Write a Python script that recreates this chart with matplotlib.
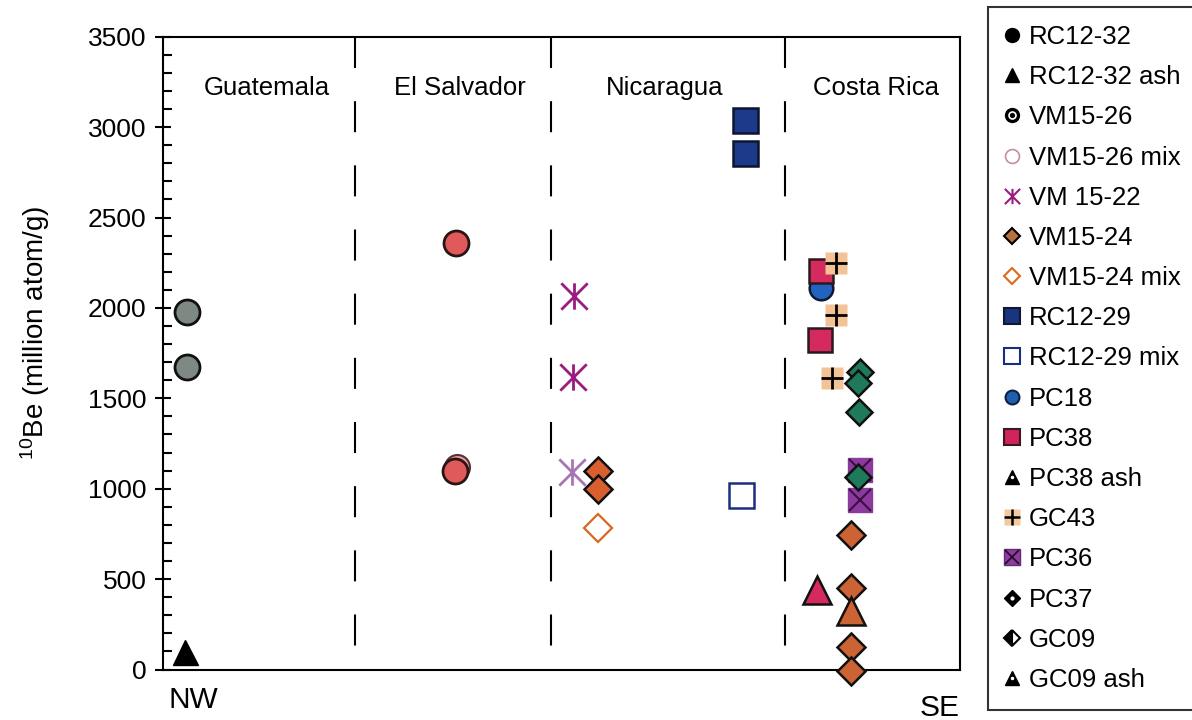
import matplotlib
matplotlib.use('Agg')
import matplotlib.pyplot as plt
from matplotlib.lines import Line2D
from matplotlib.legend_handler import HandlerTuple
from matplotlib.path import Path

plt.rcParams['font.family'] = ['Liberation Sans', 'DejaVu Sans']
plt.rcParams['mathtext.default'] = 'regular'

# x = position along the margin, NW (0) -> SE (100); y = 10Be (million atom/g)
regions = ['Guatemala', 'El Salvador', 'Nicaragua', 'Costa Rica']
region_label_x = [13.0, 37.3, 63.0, 89.5]
region_bounds = [24.1, 48.7, 78.1]

rc1232_x = [3.0, 3.0]
rc1232_y = [1977, 1673]
rc1232ash_x = [2.8]
rc1232ash_y = [95]
vm1526_x = [36.8, 36.6]
vm1526_y = [2357, 1098]
vm1526mix_x = [36.9]
vm1526mix_y = [1120]
vm1522_x = [51.6, 51.5]
vm1522_y = [2065, 1620]
vm1522b_x = [51.3]
vm1522b_y = [1091]
vm1524_x = [54.6, 54.6]
vm1524_y = [1100, 997]
vm1524mix_x = [54.6]
vm1524mix_y = [781]
rc1229_x = [73.0, 73.0]
rc1229_y = [3039, 2858]
rc1229mix_x = [72.5]
rc1229mix_y = [965]
pc18_x = [82.5]
pc18_y = [2108]
pc38_x = [82.5, 82.4]
pc38_y = [2206, 1822]
pc38ash_x = [82.1]
pc38ash_y = [440]
gc43_x = [84.5, 84.5, 83.9]
gc43_y = [2250, 1961, 1611]
pc36_x = [87.5, 87.5]
pc36_y = [1103, 937]
pc37_x = [86.3, 86.3, 86.3, 86.3]
pc37_y = [744, 449, 126, -10]
gc09_x = [87.5, 87.2, 87.3, 87.2]
gc09_y = [1647, 1583, 1426, 1066]
gc09ash_x = [86.3]
gc09ash_y = [325]

# six-armed asterisk: vertical bar plus an X
star = Path([(0, -1), (0, 1), (-1, -1), (1, 1), (-1, 1), (1, -1)],
            [Path.MOVETO, Path.LINETO, Path.MOVETO, Path.LINETO, Path.MOVETO, Path.LINETO])

fig = plt.figure(figsize=(11.92, 7.2), dpi=100)
ax = fig.add_axes([163/1192, 1 - 669.5/720, 797/1192, 632.8/720])

for xb in region_bounds:
    ax.plot([xb, xb], [3500, 0], color='black', lw=1.5, linestyle=(0, (14.9, 15.9)), zorder=1)
for lx, name in zip(region_label_x, regions):
    ax.text(lx, 3215, name, ha='center', va='center', fontsize=18.5)

ek = '#111111'
ax.plot(rc1232_x, rc1232_y, 'o', ms=18, mfc='#7e8984', mec=ek, mew=2, ls='none', zorder=3)
ax.plot(rc1232ash_x, rc1232ash_y, '^', ms=18, mfc='black', mec='black', ls='none', zorder=3)
ax.plot(vm1526mix_x, vm1526mix_y, 'o', ms=18, mfc='#e8a0a0', mec='#553333', mew=1.5, ls='none', zorder=3)
ax.plot(vm1526_x, vm1526_y, 'o', ms=18, mfc='#e05a5c', mec='#2a1515', mew=2, ls='none', zorder=3)
ax.plot(vm1522_x, vm1522_y, marker=star, ms=19, mfc='none', mec='#9b1b80', mew=2, ls='none', zorder=3)
ax.plot(vm1522b_x, vm1522b_y, marker=star, ms=19, mfc='none', mec='#a874b4', mew=2, ls='none', zorder=3)
ax.plot(vm1524_x, vm1524_y, 'D', ms=14, mfc='#d9602e', mec=ek, mew=1.8, ls='none', zorder=3)
ax.plot(vm1524mix_x, vm1524mix_y, 'D', ms=14, mfc='white', mec='#d8681f', mew=1.6, ls='none', zorder=3)
ax.plot(rc1229_x, rc1229_y, 's', ms=18, mfc='#1d3a8a', mec='#0d1530', mew=1.8, ls='none', zorder=3)
ax.plot(rc1229mix_x, rc1229mix_y, 's', ms=18, mfc='white', mec='#1c2e80', mew=1.8, ls='none', zorder=3)
ax.plot(pc18_x, pc18_y, 'o', ms=17, mfc='#2262c0', mec='#101a30', mew=1.8, ls='none', zorder=3)
ax.plot(pc38_x, pc38_y, 's', ms=17, mfc='#d42a5e', mec='#2a1a20', mew=1.8, ls='none', zorder=4)
ax.plot(gc43_x, gc43_y, 's', ms=16.5, mfc='#f3c397', mec='none', ls='none', zorder=5)
ax.plot(gc43_x, gc43_y, '+', ms=16.5, mec='black', mew=2, ls='none', zorder=5)
ax.plot(pc36_x, pc36_y, 's', ms=17, mfc='#8c3a9e', mec='#8c3a9e', ls='none', zorder=5)
ax.plot(pc36_x, pc36_y, 'x', ms=16, mec='#3a1040', mew=1.5, ls='none', zorder=5)
ax.plot(gc09_x, gc09_y, 'D', ms=13, mfc='#1f7a5c', mec=ek, mew=1.8, ls='none', zorder=6)
ax.plot(pc37_x, pc37_y, 'D', ms=14, mfc='#cc6335', mec=ek, mew=1.8, ls='none', zorder=5, clip_on=False)
ax.plot(pc38ash_x, pc38ash_y, '^', ms=20, mfc='#d42a5e', mec=ek, mew=1.8, ls='none', zorder=5)
ax.plot(gc09ash_x, gc09ash_y, '^', ms=20, mfc='#cc6335', mec=ek, mew=1.8, ls='none', zorder=6)

ax.set_xlim(0, 100)
ax.set_ylim(0, 3500)
ax.set_xticks([])
ax.set_yticks(range(0, 3501, 500))
ax.set_yticks(range(0, 3501, 100), minor=True)
ax.tick_params(axis='y', which='major', direction='inout', length=12, width=1.5, labelsize=19, pad=6)
ax.tick_params(axis='y', which='minor', direction='in', length=6.5, width=1.5)
for s in ax.spines.values():
    s.set_linewidth(1.5)
ax.set_ylabel(r'$^{10}$Be (million atom/g)', fontsize=20)
ax.yaxis.set_label_coords(-0.139, 0.532)

fig.text(193/1192, 1 - 700/720, 'NW', ha='center', va='center', fontsize=21.5)
fig.text(940/1192, 1 - 708/720, 'SE', ha='center', va='center', fontsize=21.5)

# legend (drawn with the legend glyphs of the original figure)
def mk(marker, **kw):
    kw.setdefault('ms', 10)
    return Line2D([], [], marker=marker, ls='none', **kw)

handles = [
    mk('o', mfc='black', mec='black'),
    mk('^', mfc='black', mec='black'),
    (mk('o', mfc='black', mec='black'), mk('o', ms=5, mfc='black', mec='white', mew=1.2)),
    mk('o', mfc='white', mec='#c98aa6', mew=1.2),
    mk(star, mfc='none', mec='#9b1b80', mew=1.5, ms=11),
    mk('D', ms=8, mfc='#b8703f', mec='black', mew=1.5),
    mk('D', ms=8, mfc='white', mec='#e06a1a', mew=1.5),
    mk('s', ms=11, mfc='#1a3480', mec='#101830', mew=1.5),
    mk('s', ms=11, mfc='white', mec='#1a2f80', mew=1.5),
    mk('o', mfc='#1f5fae', mec='#102040', mew=1.5),
    mk('s', ms=11, mfc='#d0245a', mec='#3a1a20', mew=1.5),
    (mk('^', mfc='black', mec='black'), mk('.', ms=3, mfc='white', mec='white')),
    (mk('s', ms=11, mfc='#f2c9a0', mec='none'), mk('+', ms=11, mec='black', mew=1.8)),
    (mk('s', ms=11, mfc='#8b3f9c', mec='#6a2a7a'), mk('x', ms=10, mec='#2a0a30', mew=1.3)),
    (mk('D', ms=8, mfc='black', mec='black'), mk('.', ms=4, mfc='white', mec='white')),
    mk('D', ms=8, mfc='black', mfcalt='white', fillstyle='left', mec='black', mew=1.5),
    (mk('^', mfc='black', mec='black'), mk('.', ms=3, mfc='white', mec='white')),
]
labels = ['RC12-32', 'RC12-32 ash', 'VM15-26', 'VM15-26 mix', 'VM 15-22', 'VM15-24',
          'VM15-24 mix', 'RC12-29', 'RC12-29 mix', 'PC18', 'PC38', 'PC38 ash',
          'GC43', 'PC36', 'PC37', 'GC09', 'GC09 ash']

leg = fig.legend(handles, labels, loc='upper left', bbox_to_anchor=(988/1192, 1 - 7/720),
                 borderaxespad=0, frameon=True, fancybox=False, edgecolor='black',
                 fontsize=18.5, labelspacing=0.63, handlelength=0.5, handletextpad=0.4,
                 borderpad=0.7, handler_map={tuple: HandlerTuple(ndivide=1)})
leg.get_frame().set_linewidth(1.5)

fig.savefig('out.png', dpi=100)
